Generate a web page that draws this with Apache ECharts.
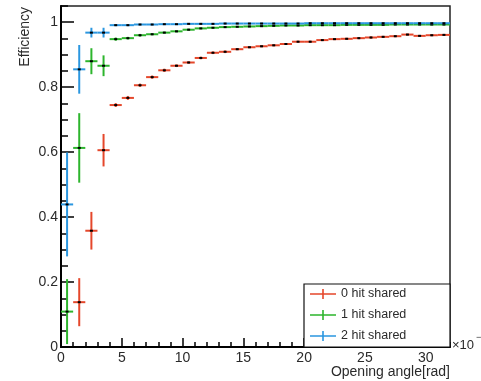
<!DOCTYPE html>
<html>
<head>
<meta charset="utf-8">
<script src="https://cdn.jsdelivr.net/npm/echarts@6/dist/echarts.min.js"></script>
<style>html,body{margin:0;padding:0;background:#fff;}#c{width:481px;height:381px;}</style>
</head>
<body>
<div id="c"></div>
<script>
// Bin centers (opening angle, x10^-3 rad)
const binCenters = [0.5,1.5,2.5,3.5,4.5,5.5,6.5,7.5,8.5,9.5,10.5,11.5,12.5,13.5,14.5,15.5,
                    16.5,17.5,18.5,19.5,20.5,21.5,22.5,23.5,24.5,25.5,26.5,27.5,28.5,29.5,30.5,31.5];
const seriesNames = ['0 hit shared','1 hit shared','2 hit shared'];
const seriesColors = ['#e5472b','#2db52d','#2b97e0'];

const eff0 = [null,0.138,0.358,0.606,0.745,0.767,0.806,0.831,0.852,0.866,0.876,0.890,0.906,0.909,0.917,0.923,
              0.926,0.929,0.933,0.940,0.940,0.945,0.948,0.949,0.951,0.953,0.955,0.957,0.962,0.958,0.960,0.961];
const err0 = [null,0.074,0.058,0.050,0.006,0.006,0.005,0.005,0.005,0.004,0.004,0.004,0.004,0.004,0.003,0.003,
              0.003,0.003,0.003,0.003,0.003,0.003,0.003,0.003,0.003,0.003,0.003,0.003,0.003,0.003,0.003,0.003];

const eff1 = [0.109,0.613,0.880,0.866,0.948,0.951,0.960,0.963,0.968,0.972,0.977,0.981,0.983,0.985,0.986,0.987,
              0.988,0.989,0.990,0.990,0.991,0.991,0.991,0.992,0.992,0.992,0.992,0.993,0.993,0.993,0.993,0.993];
const err1 = [0.100,0.107,0.040,0.032,0.005,0.004,0.004,0.003,0.003,0.003,0.003,0.002,0.002,0.002,0.002,0.002,
              0.002,0.002,0.002,0.002,0.002,0.002,0.002,0.002,0.002,0.002,0.002,0.002,0.002,0.002,0.002,0.002];

const eff2 = [0.439,0.855,0.968,0.968,0.991,0.991,0.993,0.993,0.994,0.994,0.995,0.995,0.995,0.996,0.996,0.996,
              0.996,0.996,0.996,0.996,0.997,0.997,0.997,0.997,0.997,0.997,0.997,0.997,0.997,0.997,0.997,0.997];
const err2 = [0.160,0.075,0.015,0.015,0.003,0.003,0.002,0.002,0.002,0.002,0.002,0.002,0.002,0.002,0.002,0.002,
              0.002,0.002,0.002,0.002,0.002,0.002,0.002,0.002,0.002,0.002,0.002,0.002,0.002,0.002,0.002,0.002];

const xMajor = 5, xMinor = 1;
const yMajor = 0.2, yMinor = 0.05;

const FONT = '"Liberation Sans", Arial, Helvetica, sans-serif';
const TXT = '#2a2a2a';

function build(eff, err) {
  const out = [];
  for (let i = 0; i < binCenters.length; i++) {
    if (eff[i] == null) continue;
    out.push([binCenters[i], eff[i], err[i]]);
  }
  return out;
}

function renderItem(params, api) {
  const x = api.value(0), y = api.value(1), e = api.value(2);
  const pL = api.coord([x - 0.5, y]), pR = api.coord([x + 0.5, y]);
  const pT = api.coord([x, y + e]), pB = api.coord([x, y - e]);
  const c = api.coord([x, y]);
  const color = api.visual('color');
  return {
    type: 'group',
    children: [
      {type: 'line', shape: {x1: pL[0], y1: pL[1], x2: pR[0], y2: pR[1]}, style: {stroke: color, lineWidth: 2}},
      {type: 'line', shape: {x1: pT[0], y1: pT[1], x2: pB[0], y2: pB[1]}, style: {stroke: color, lineWidth: 2}},
      {type: 'rect', shape: {x: c[0] - 1.5, y: c[1] - 1, width: 3, height: 2}, style: {fill: '#000'}}
    ]
  };
}

const datasets = [build(eff0, err0), build(eff1, err1), build(eff2, err2)];
const crossIcon = 'path://M0,4.2h26v1.6h-26z M12.2,0h1.6v10h-1.6z';

const chart = echarts.init(document.getElementById('c'), null, {renderer: 'canvas'});
chart.setOption({
  animation: false,
  backgroundColor: '#fff',
  grid: {left: 61, top: 6, right: 31, bottom: 34, show: true, borderColor: '#222', borderWidth: 1.5, backgroundColor: 'transparent'},
  xAxis: [{
    type: 'value', min: 0, max: 32, interval: xMajor,
    axisLine: {show: true, lineStyle: {color: '#000', width: 2}},
    axisTick: {show: true, inside: true, length: 9, lineStyle: {color: '#000', width: 1.5}},
    splitLine: {show: false},
    axisLabel: {showMaxLabel: false, color: TXT, fontSize: 14, margin: 4, fontFamily: FONT}
  }, {
    type: 'value', min: 0, max: 32, interval: xMinor, position: 'bottom',
    axisLine: {show: false},
    axisTick: {show: true, inside: true, length: 5, lineStyle: {color: '#000', width: 1.5}},
    splitLine: {show: false},
    axisLabel: {show: false}
  }],
  yAxis: [{
    type: 'value', min: 0, max: 1.05, interval: yMajor,
    axisLine: {show: true, lineStyle: {color: '#000', width: 2}},
    axisTick: {show: true, inside: true, length: 13, lineStyle: {color: '#000', width: 1.5}},
    splitLine: {show: false},
    axisLabel: {showMaxLabel: false, color: TXT, fontSize: 14, margin: 3, fontFamily: FONT}
  }, {
    type: 'value', min: 0, max: 1.05, interval: yMinor, position: 'left',
    axisLine: {show: false},
    axisTick: {show: true, inside: true, length: 7, lineStyle: {color: '#000', width: 1.5}},
    splitLine: {show: false},
    axisLabel: {show: false}
  }],
  legend: {
    orient: 'vertical', left: 310, top: 287, padding: 0,
    itemWidth: 26, itemHeight: 10, itemGap: 7, itemTextGap: 6,
    textStyle: {color: TXT, fontSize: 12.5, fontFamily: FONT, lineHeight: 14},
    data: seriesNames.map(n => ({name: n, icon: crossIcon})),
    z: 200
  },
  graphic: [
    {type: 'rect', z: 100, shape: {x: 304, y: 284, width: 146, height: 63}, style: {fill: '#fff', stroke: '#111', lineWidth: 1.2}},
    {type: 'text', z: 10, x: 25, y: 7, rotation: Math.PI / 2,
     style: {text: 'Efficiency', fill: TXT, fontSize: 14, fontFamily: FONT, align: 'right', verticalAlign: 'middle'}},
    {type: 'text', z: 10, x: 450, y: 372,
     style: {text: 'Opening angle[rad]', fill: TXT, fontSize: 14, fontFamily: FONT, align: 'right', verticalAlign: 'middle'}},
    {type: 'text', z: 10, x: 452, y: 345,
     style: {text: '×10', fill: TXT, fontSize: 13, fontFamily: FONT, align: 'left', verticalAlign: 'middle'}},
    {type: 'text', z: 10, x: 476, y: 338,
     style: {text: '−3', fill: TXT, fontSize: 9, fontFamily: FONT, align: 'left', verticalAlign: 'middle'}}
  ],
  series: datasets.map((d, i) => ({
    name: seriesNames[i],
    type: 'custom',
    renderItem: renderItem,
    itemStyle: {color: seriesColors[i]},
    xAxisIndex: 0, yAxisIndex: 0,
    encode: {x: 0, y: 1},
    clip: true,
    data: d
  }))
});
</script>
</body>
</html>
